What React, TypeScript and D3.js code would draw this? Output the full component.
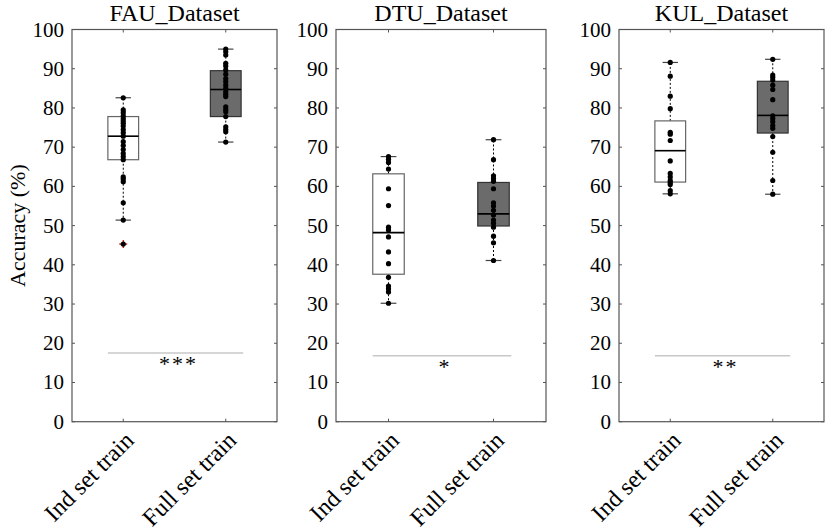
import * as d3 from "d3";

const panelTitles = ["FAU_Dataset", "DTU_Dataset", "KUL_Dataset"];
const groupLabels = ["Ind set train", "Full set train"];
const yTickValues = [0, 10, 20, 30, 40, 50, 60, 70, 80, 90, 100];

// individual subject accuracies, per panel: [ind, full]
const fauInd = [82.6, 79.5, 78.8, 78.0, 77.3, 76.7, 76.1, 75.4, 74.5, 73.7, 72.8, 71.4, 70.4, 69.4, 68.4, 67.6, 66.8, 62.4, 61.9, 61.2, 55.8, 51.4, 45.3];
const fauFull = [95.0, 94.3, 93.5, 91.4, 90.7, 89.7, 88.6, 87.5, 86.7, 85.8, 85.0, 84.1, 83.5, 82.9, 80.3, 79.6, 79.0, 77.8, 75.2, 74.5, 73.9, 71.3];
const dtuInd = [67.6, 66.9, 66.1, 64.4, 59.4, 55.1, 49.6, 48.9, 47.1, 43.3, 40.3, 36.8, 34.6, 33.9, 33.1, 30.2];
const dtuFull = [71.9, 66.8, 62.7, 62.0, 61.3, 59.4, 55.8, 55.0, 53.9, 52.7, 51.4, 50.6, 49.6, 47.3, 45.6, 41.1];
const kulInd = [91.6, 88.1, 83.0, 79.8, 73.8, 73.3, 71.7, 66.5, 63.3, 62.4, 61.5, 61.0, 60.5, 58.9, 58.1];
const kulFull = [92.4, 88.4, 87.8, 87.1, 85.8, 84.7, 82.1, 78.0, 77.3, 76.5, 75.5, 74.8, 72.7, 68.7, 61.5, 58.0];

// box statistics, per panel: [ind, full]
const whiskerHigh = [[82.6, 95.0], [67.6, 71.9], [91.6, 92.4]];
const q3Values = [[77.8, 89.5], [63.2, 61.0], [76.7, 86.8]];
const medianValues = [[72.8, 84.7], [48.2, 53.0], [69.1, 78.1]];
const q1Values = [[66.8, 77.8], [37.6, 49.9], [61.1, 73.6]];
const whiskerLow = [[51.4, 71.3], [30.2, 41.1], [58.1, 58.0]];
const fauIndOutliers = [45.3];

const sigStars = ["***", "*", "**"];
const sigHeights = [17.5, 16.8, 16.8];

const pointsByPanel = [
  [fauInd, fauFull],
  [dtuInd, dtuFull],
  [kulInd, kulFull],
];
const outliersByPanel = [[fauIndOutliers, []], [[], []], [[], []]];

const W = 829;
const H = 530;
const top = 29.5;
const bottom = 421.7;
const panelLeft = [72, 336, 619];
const panelWidth = [205, 210, 205];
const font = "'Liberation Serif', 'DejaVu Serif', serif";

function Panel({ p }: { p: number }) {
  const x = d3.scaleLinear().domain([0.5, 2.5]).range([panelLeft[p], panelLeft[p] + panelWidth[p]]);
  const y = d3.scaleLinear().domain([0, 100]).range([bottom, top]);
  const x0 = x.range()[0];
  const x1 = x.range()[1];
  const boxHalf = 0.15;
  const capHalf = 0.075;
  const sigL = x(1 - 0.15);
  const sigR = x(2 + 0.17);
  return (
    <g>
      <text x={(x0 + x1) / 2} y={21} textAnchor="middle" fontSize={24} fontFamily={font}>
        {panelTitles[p]}
      </text>
      {/* frame */}
      <rect x={x0} y={top} width={x1 - x0} height={bottom - top} fill="none" stroke="#555" strokeWidth={1.2} />
      {yTickValues.map((t) => (
        <g key={t}>
          <line x1={x0} x2={x0 + 3} y1={y(t)} y2={y(t)} stroke="#555" />
          <line x1={x1} x2={x1 - 3} y1={y(t)} y2={y(t)} stroke="#555" />
          <text x={x0 - 8} y={y(t) + 7} textAnchor="end" fontSize={21} fontFamily={font}>
            {t}
          </text>
        </g>
      ))}
      {groupLabels.map((g, i) => (
        <g key={g}>
          <line x1={x(i + 1)} x2={x(i + 1)} y1={bottom} y2={bottom - 3} stroke="#555" />
          <line x1={x(i + 1)} x2={x(i + 1)} y1={top} y2={top + 3} stroke="#555" />
          <text
            transform={`translate(${x(i + 1) + 12},${bottom + 20}) rotate(-45)`}
            textAnchor="end"
            fontSize={24}
            fontFamily={font}
          >
            {g}
          </text>
        </g>
      ))}
      {/* boxes */}
      {groupLabels.map((g, i) => {
        const c = i + 1;
        const full = i === 1;
        return (
          <g key={"box" + g}>
            <line x1={x(c)} x2={x(c)} y1={y(q3Values[p][i])} y2={y(whiskerHigh[p][i])} stroke="#000" strokeDasharray="2,2" />
            <line x1={x(c)} x2={x(c)} y1={y(q1Values[p][i])} y2={y(whiskerLow[p][i])} stroke="#000" strokeDasharray="2,2" />
            <line x1={x(c - capHalf)} x2={x(c + capHalf)} y1={y(whiskerHigh[p][i])} y2={y(whiskerHigh[p][i])} stroke="#444" strokeWidth={1.2} />
            <line x1={x(c - capHalf)} x2={x(c + capHalf)} y1={y(whiskerLow[p][i])} y2={y(whiskerLow[p][i])} stroke="#444" strokeWidth={1.2} />
            <rect
              x={x(c - boxHalf)}
              y={y(q3Values[p][i])}
              width={x(c + boxHalf) - x(c - boxHalf)}
              height={y(q1Values[p][i]) - y(q3Values[p][i])}
              fill={full ? "#6b6b6b" : "#fff"}
              stroke={full ? "#333" : "#666"}
              strokeWidth={1.2}
            />
            <line x1={x(c - boxHalf)} x2={x(c + boxHalf)} y1={y(medianValues[p][i])} y2={y(medianValues[p][i])} stroke="#000" strokeWidth={1.6} />
            {outliersByPanel[p][i].map((v, k) => (
              <g key={"o" + k}>
                <line x1={x(c) - 4} x2={x(c) + 4} y1={y(v)} y2={y(v)} stroke="#c00000" strokeWidth={1.2} />
                <line x1={x(c)} x2={x(c)} y1={y(v) - 4} y2={y(v) + 4} stroke="#c00000" strokeWidth={1.2} />
              </g>
            ))}
            {pointsByPanel[p][i].map((v, k) => (
              <circle key={k} cx={x(c)} cy={y(v)} r={2.6} fill="#000" />
            ))}
          </g>
        );
      })}
      {/* significance */}
      <line x1={sigL} x2={sigR} y1={y(sigHeights[p])} y2={y(sigHeights[p])} stroke="#c8c8c8" strokeWidth={1.5} />
      <text x={(sigL + sigR) / 2 + 3} y={y(sigHeights[p]) + 18} textAnchor="middle" fontSize={22} fontFamily={font} letterSpacing={2}>
        {sigStars[p]}
      </text>
    </g>
  );
}

export default function App() {
  return (
    <svg width={W} height={H} style={{ position: "absolute", left: 0, top: 0, background: "#fff" }}>
      <text transform={`translate(25,${(top + bottom) / 2}) rotate(-90)`} textAnchor="middle" fontSize={22} fontFamily={font}>
        Accuracy (%)
      </text>
      {panelTitles.map((t, p) => (
        <Panel key={t} p={p} />
      ))}
    </svg>
  );
}
